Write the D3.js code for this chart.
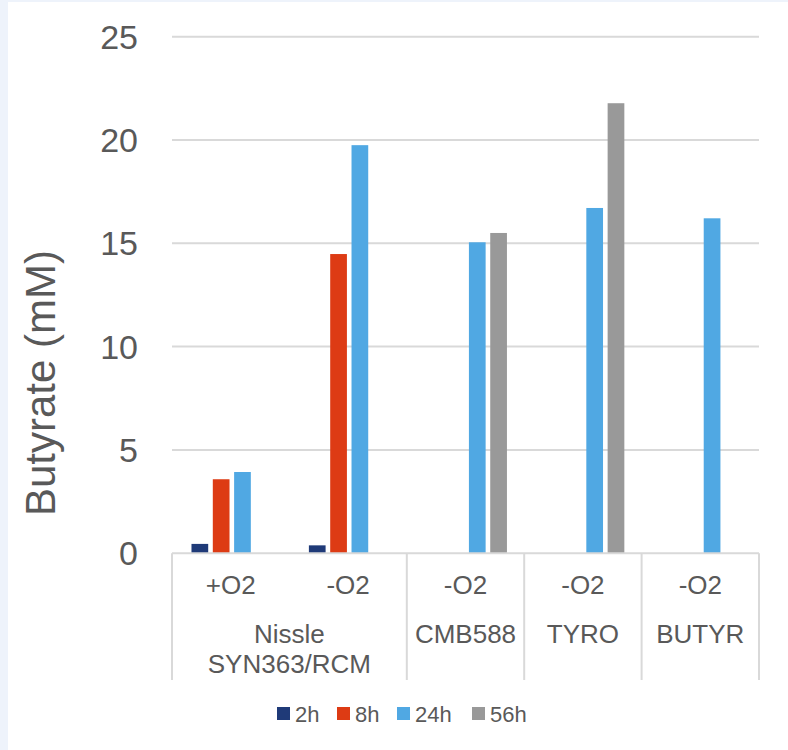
<!DOCTYPE html>
<html>
<head>
<meta charset="utf-8">
<script src="https://cdn.jsdelivr.net/npm/d3@7"></script>
<style>
  html, body { margin: 0; padding: 0; background: #ffffff; }
  svg { display: block; }
  text { font-family: "Liberation Sans", Arial, sans-serif; fill: #595959; }
</style>
</head>
<body>
<svg id="chart" width="788" height="750"></svg>
<script>
// Sub-categories along the x axis (oxygen condition) and their strain groups
const conditions = ["+O2", "-O2", "-O2", "-O2", "-O2"];
const strainGroups = [
  { lines: ["Nissle", "SYN363/RCM"], from: 0, to: 1 },
  { lines: ["CMB588"], from: 2, to: 2 },
  { lines: ["TYRO"], from: 3, to: 3 },
  { lines: ["BUTYR"], from: 4, to: 4 }
];

// Time points (series) and their butyrate values in mM; null = not measured
const seriesNames = ["2h", "8h", "24h", "56h"];
const values2h  = [0.45, 0.38, null, null, null];
const values8h  = [3.58, 14.48, null, null, null];
const values24h = [3.93, 19.75, 15.05, 16.71, 16.21];
const values56h = [null, null, 15.5, 21.78, null];
const seriesColors = ["#1f3a78", "#dd3b14", "#50a8e3", "#999999"];

const yTicks = [0, 5, 10, 15, 20, 25];
const yTitle = "Butyrate (mM)";

const allSeries = [values2h, values8h, values24h, values56h];

const svg = d3.select("#chart");
const W = 788, H = 750;

// Page backdrop: pale blue edge with white chart area
svg.append("rect").attr("width", W).attr("height", H).attr("fill", "#eef3fb");
svg.append("rect").attr("x", 8).attr("y", 2).attr("width", W - 8).attr("height", H - 2).attr("fill", "#ffffff");

const plot = { left: 172, right: 759, top: 36.7, bottom: 553.2 };

const y = d3.scaleLinear().domain([0, 25]).range([plot.bottom, plot.top]);
const x0 = d3.scaleBand()
  .domain(d3.range(conditions.length))
  .range([plot.left, plot.right])
  .paddingInner(0).paddingOuter(0);
const step = x0.bandwidth();
const x1 = d3.scaleBand()
  .domain(seriesNames)
  .range([step * 0.166, step * 0.853])
  .paddingInner(0.216).paddingOuter(0);

// Horizontal gridlines
svg.append("g")
  .selectAll("line")
  .data(yTicks.filter(t => t > 0))
  .join("line")
  .attr("x1", plot.left).attr("x2", plot.right)
  .attr("y1", d => y(d)).attr("y2", d => y(d))
  .attr("stroke", "#d9d9d9").attr("stroke-width", 2);

// Y tick labels
svg.append("g")
  .selectAll("text")
  .data(yTicks)
  .join("text")
  .attr("x", 138).attr("y", d => y(d) + 12)
  .attr("text-anchor", "end")
  .style("font-size", "34px")
  .text(d => d);

// Y axis title
svg.append("text")
  .attr("transform", "translate(55, 383) rotate(-90)")
  .attr("text-anchor", "middle")
  .style("font-size", "42px")
  .text(yTitle);

// Bars
const barData = [];
allSeries.forEach((vals, si) => {
  vals.forEach((v, ci) => {
    if (v != null) barData.push({ series: seriesNames[si], color: seriesColors[si], ci, v });
  });
});
svg.append("g")
  .selectAll("rect")
  .data(barData)
  .join("rect")
  .attr("x", d => x0(d.ci) + x1(d.series))
  .attr("width", x1.bandwidth())
  .attr("y", d => y(d.v))
  .attr("height", d => y(0) - y(d.v))
  .attr("fill", d => d.color);

// Category axis: baseline and group separators
const axisG = svg.append("g").attr("stroke", "#d9d9d9").attr("stroke-width", 2);
axisG.append("line")
  .attr("x1", plot.left).attr("x2", plot.right)
  .attr("y1", y(0)).attr("y2", y(0));
const sepXs = [plot.left].concat(strainGroups.map(g => x0(g.to) + step));
axisG.selectAll("line.sep")
  .data(sepXs)
  .join("line")
  .attr("class", "sep")
  .attr("x1", d => d).attr("x2", d => d)
  .attr("y1", y(0)).attr("y2", 680);

// First row: condition labels
svg.append("g")
  .selectAll("text")
  .data(conditions)
  .join("text")
  .attr("x", (d, i) => x0(i) + step / 2)
  .attr("y", 594)
  .attr("text-anchor", "middle")
  .style("font-size", "26px")
  .text(d => d);

// Second row: strain labels
const gl = svg.append("g");
strainGroups.forEach(g => {
  const cx = (x0(g.from) + x0(g.to) + step) / 2;
  const t = gl.append("text")
    .attr("text-anchor", "middle")
    .style("font-size", "26px");
  g.lines.forEach((line, li) => {
    t.append("tspan").attr("x", cx).attr("y", 643 + li * 30).text(line);
  });
});

// Legend
const legendX = [277, 337, 397, 472];
const lg = svg.append("g");
seriesNames.forEach((name, i) => {
  lg.append("rect")
    .attr("x", legendX[i]).attr("y", 707)
    .attr("width", 13).attr("height", 13)
    .attr("fill", seriesColors[i]);
  lg.append("text")
    .attr("x", legendX[i] + 18).attr("y", 722)
    .style("font-size", "22px")
    .text(name);
});
</script>
</body>
</html>
